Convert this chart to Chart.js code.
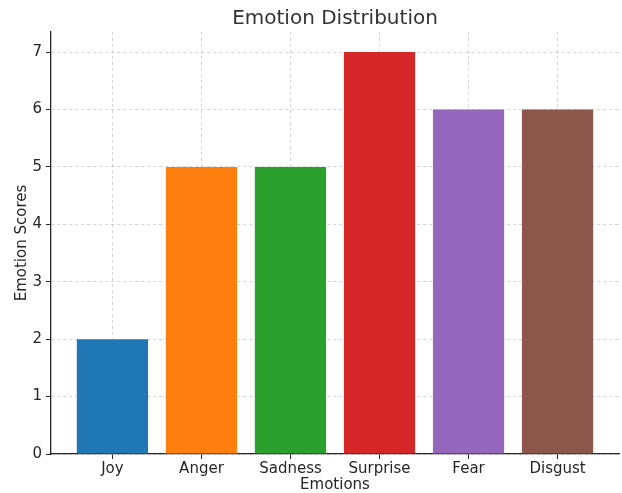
<!DOCTYPE html>
<html>
<head>
<meta charset="utf-8">
<script src="https://cdn.jsdelivr.net/npm/chart.js@4"></script>
<style>
  html, body { margin: 0; padding: 0; background: #ffffff; }
  #wrap { width: 622px; height: 493px; }
</style>
</head>
<body>
<div id="wrap"><canvas id="chart" width="622" height="493"></canvas></div>
<script>
// Emotion scores per category
const emotions = ["Joy", "Anger", "Sadness", "Surprise", "Fear", "Disgust"];
const scores = [2, 5, 5, 7, 6, 6];
const barColors = ["#1f77b4", "#ff7f0e", "#2ca02c", "#d62728", "#9467bd", "#8c564b"];
const yTicks = [0, 1, 2, 3, 4, 5, 6, 7];

const FONT = "'DejaVu Sans', sans-serif";
const TEXT = "#262626";
const GRID = "rgba(176,176,176,0.55)";

// bars sit at integer positions 0..n-1 with 5% side margins around their extent
const barWidth = 0.8;
const span = (emotions.length - 1) + barWidth;
const xMin = -barWidth / 2 - span * 0.05;
const xMax = (emotions.length - 1) + barWidth / 2 + span * 0.05;
const yMax = Math.max(...scores) * 1.05;

new Chart(document.getElementById("chart"), {
  type: "bar",
  data: {
    datasets: [{
      data: emotions.map((name, i) => ({ x: i, y: scores[i] })),
      backgroundColor: barColors,
      borderWidth: 0,
      barPercentage: barWidth,
      categoryPercentage: 1.0
    }]
  },
  options: {
    responsive: false,
    animation: false,
    devicePixelRatio: 1,
    layout: { padding: { left: 0, right: 3, top: 0, bottom: 0 } },
    plugins: {
      legend: { display: false },
      tooltip: { enabled: false },
      title: {
        display: true,
        fullSize: false,
        text: "Emotion Distribution",
        color: "#333333",
        font: { family: FONT, size: 20, weight: "normal" },
        padding: { top: 7, bottom: 1 }
      }
    },
    scales: {
      x: {
        type: "linear",
        min: xMin,
        max: xMax,
        offset: false,
        z: 1,
        afterBuildTicks: (s) => { s.ticks = emotions.map((_, i) => ({ value: i })); },
        afterFit: (s) => { s.height = 39; },
        ticks: {
          color: TEXT,
          font: { family: FONT, size: 15 },
          padding: 1,
          maxRotation: 0,
          autoSkip: false,
          callback: (v) => emotions[v]
        },
        grid: {
          offset: false,
          color: GRID,
          lineWidth: 1,
          drawTicks: true,
          tickLength: 5,
          tickColor: TEXT,
          tickWidth: 1,
          tickBorderDash: []
        },
        border: { display: true, color: TEXT, width: 1.3, dash: [3, 3] },
        title: {
          display: true,
          text: "Emotions",
          color: TEXT,
          font: { family: FONT, size: 15, lineHeight: 1.0 },
          padding: { top: 0, bottom: 0 }
        }
      },
      y: {
        min: 0,
        max: yMax,
        z: 1,
        afterBuildTicks: (s) => { s.ticks = yTicks.map(v => ({ value: v })); },
        afterFit: (s) => { s.width = 51; },
        ticks: {
          color: TEXT,
          font: { family: FONT, size: 15 },
          padding: 4
        },
        grid: {
          color: GRID,
          lineWidth: 1,
          drawTicks: true,
          tickLength: 5,
          tickColor: TEXT,
          tickWidth: 1,
          tickBorderDash: []
        },
        border: { display: true, color: TEXT, width: 1.3, dash: [3, 3] },
        title: {
          display: true,
          text: "Emotion Scores",
          color: TEXT,
          font: { family: FONT, size: 15 },
          padding: { top: 13, bottom: 0 }
        }
      }
    }
  }
});
</script>
</body>
</html>
